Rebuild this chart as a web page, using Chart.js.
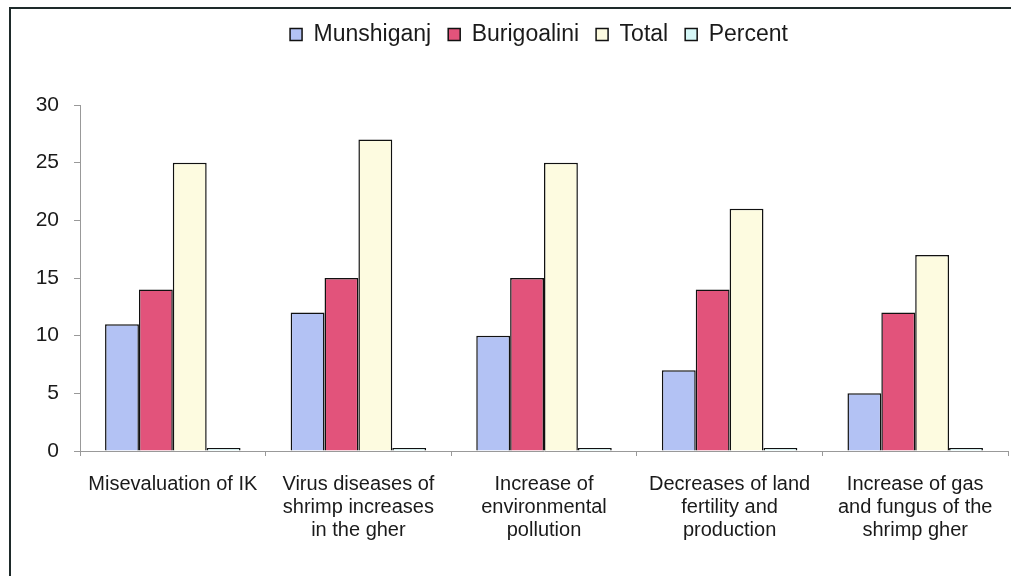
<!DOCTYPE html>
<html>
<head>
<meta charset="utf-8">
<script src="https://cdn.jsdelivr.net/npm/chart.js@4.4.0/dist/chart.umd.min.js"></script>
<style>
  body { margin: 0; background: #fff; }
  #wrap { position: relative; width: 1011px; height: 576px; overflow: hidden; }
  #frame { position: absolute; left: 9px; top: 7px; width: 1010px; height: 600px; border: 2px solid #1e2a2a; box-sizing: border-box; }
  #chart { position: absolute; left: 0; top: 0; }
</style>
</head>
<body>
<div id="wrap">
  <div id="frame"></div>
  <canvas id="chart" width="1011" height="576"></canvas>
</div>
<script>
// problems reported by respondents
var categories = [
    'Misevaluation of IK',
    ['Virus diseases of', 'shrimp increases', 'in the gher'],
    ['Increase of', 'environmental', 'pollution'],
    ['Decreases of land', 'fertility and', 'production'],
    ['Increase of gas', 'and fungus of the', 'shrimp gher']
];
var munshiganj = [11, 12, 10, 7, 5];
var burigoalini = [14, 15, 15, 14, 12];
var total = [25, 27, 25, 21, 17];
var percent = [0.25, 0.25, 0.25, 0.25, 0.25];
var yTicks = [0, 5, 10, 15, 20, 25, 30];

document.addEventListener('DOMContentLoaded', function(){
    var font = "'Liberation Sans', Arial, sans-serif";

    // pad the legend so the plot starts where the original one does,
    // and nudge it right like in the original
    var legendSpace = {
        id: 'legendSpace',
        beforeInit: function(chart){
            var fit = chart.legend.fit;
            chart.legend.fit = function(){
                fit.bind(chart.legend)();
                this.height += 49;
            };
        },
        afterLayout: function(chart){
            chart.legend.left += 35;
            chart.legend.right += 35;
        }
    };

    function bar(label, data, color){
        return {
            label: label,
            data: data,
            backgroundColor: color,
            borderColor: '#111',
            borderWidth: 1.5,
            barPercentage: 1,
            categoryPercentage: 0.73
        };
    }

    new Chart(document.getElementById('chart'), {
        type: 'bar',
        data: {
            labels: categories,
            datasets: [
                bar('Munshiganj', munshiganj, '#b3c2f4'),
                bar('Burigoalini', burigoalini, '#e2537b'),
                bar('Total', total, '#fdfbe0'),
                bar('Percent', percent, '#d6f8f8')
            ]
        },
        options: {
            responsive: false,
            animation: false,
            layout: { padding: { top: 6, right: 3, left: 0, bottom: 0 } },
            plugins: {
                legend: {
                    position: 'top',
                    labels: {
                        boxWidth: 12,
                        boxHeight: 12,
                        padding: 17,
                        color: '#1a1a1a',
                        font: { family: font, size: 23 }
                    }
                },
                tooltip: { enabled: false }
            },
            scales: {
                x: {
                    grid: { offset: true, drawOnChartArea: false, drawTicks: true, tickLength: 5, color: '#999' },
                    border: { color: '#999', width: 1 },
                    ticks: { color: '#1a1a1a', padding: 17, maxRotation: 0, autoSkip: false,
                             font: { family: font, size: 20, lineHeight: 1.15 } },
                    afterFit: function(scale){ scale.height = 125; }
                },
                y: {
                    min: 0,
                    max: 30,
                    afterBuildTicks: function(scale){
                        scale.ticks = yTicks.map(function(v){ return { value: v }; });
                    },
                    grid: { drawOnChartArea: false, drawTicks: true, tickLength: 6, color: '#999' },
                    border: { color: '#999', width: 1 },
                    ticks: { color: '#1a1a1a', padding: 15, font: { family: font, size: 21 } },
                    afterFit: function(scale){ scale.width = 80; }
                }
            }
        },
        plugins: [legendSpace]
    });
});
</script>
</body>
</html>
